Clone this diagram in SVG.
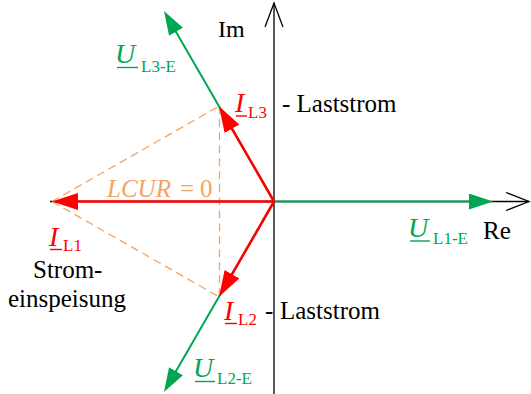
<svg xmlns="http://www.w3.org/2000/svg" width="531" height="394" viewBox="0 0 531 394" font-family="'Liberation Serif', 'DejaVu Serif', serif">
<style>
text{font-family:'Liberation Serif','DejaVu Serif',serif;}
.t{font-size:25px;fill:#000;}
.sym{font-size:28px;font-style:italic;}
.sub{font-size:17px;}
.red{fill:#FF0000;}
.grn{fill:#00A651;}
.org{fill:#F4A462;}
.axis{stroke:#000;stroke-width:1.3;fill:none;}
.ul-r{stroke:#FF0000;stroke-width:1.4;}
.ul-g{stroke:#00A651;stroke-width:1.4;}
.vr{stroke:#FF0000;stroke-width:2.5;fill:none;marker-end:url(#ar);}
.vg{stroke:#00A651;stroke-width:2;fill:none;marker-end:url(#ag);}
.dash{stroke:#F4A462;stroke-width:1.3;stroke-dasharray:8 5;fill:none;}
</style>
<defs>
<marker id="ar" markerUnits="userSpaceOnUse" viewBox="0 0 26 17" markerWidth="26" markerHeight="17" refX="16" refY="8.5" orient="auto"><path d="M0,0 L26,8.5 L0,17 z" fill="#FF0000"/></marker>
<marker id="ag" markerUnits="userSpaceOnUse" viewBox="0 0 24 16" markerWidth="24" markerHeight="16" refX="14" refY="8" orient="auto"><path d="M0,0 L24,8 L0,16 z" fill="#00A651"/></marker>
</defs>
<g id="axes">
<line class="axis" x1="50" y1="201.5" x2="529" y2="201.5"/>
<polyline class="axis" points="506,192.5 529,201.5 506,210.5"/>
<line class="axis" x1="274" y1="394" x2="274" y2="3"/>
<polyline class="axis" points="265,27 274,3 283,27"/>
</g>
<g id="connectors">
<line class="dash" x1="52" y1="201.5" x2="219" y2="106.2"/>
<line class="dash" x1="52" y1="201.5" x2="219" y2="296.8"/>
<line class="dash" x1="219.5" y1="106.2" x2="219.5" y2="296.8"/>
<line class="vg" x1="274" y1="201.5" x2="483" y2="201.5"/>
<line class="vg" x1="274" y1="201.5" x2="169" y2="19.7"/>
<line class="vg" x1="274" y1="201.5" x2="169" y2="383.3"/>
<line class="vr" x1="274" y1="201.5" x2="62" y2="201.5"/>
<line class="vr" x1="274" y1="201.5" x2="224" y2="114.9"/>
<line class="vr" x1="274" y1="201.5" x2="224" y2="288.1"/>
</g>
<g id="label-Im"><text class="t" x="218" y="37" style="font-size:24px">Im</text></g>
<g id="label-Re"><text class="t" x="483" y="239">Re</text></g>
<g id="label-UL3E">
<text class="sym grn" x="115" y="63">U</text>
<line class="ul-g" x1="117" y1="67.5" x2="138" y2="67.5"/>
<text class="sub grn" x="141" y="72">L3-E</text>
</g>
<g id="label-UL1E">
<text class="sym grn" x="408" y="237">U</text>
<line class="ul-g" x1="410" y1="241" x2="430" y2="241"/>
<text class="sub grn" x="433" y="244">L1-E</text>
</g>
<g id="label-UL2E">
<text class="sym grn" x="193" y="377">U</text>
<line class="ul-g" x1="195" y1="381.5" x2="215" y2="381.5"/>
<text class="sub grn" x="217" y="384">L2-E</text>
</g>
<g id="label-IL3">
<text class="sym red" x="235" y="112">I</text>
<line class="ul-r" x1="236" y1="116" x2="247" y2="116"/>
<text class="sub red" x="248" y="118">L3</text>
<text class="t" x="282" y="112">- Laststrom</text>
</g>
<g id="label-IL1">
<text class="sym red" x="49" y="246">I</text>
<line class="ul-r" x1="50" y1="249.5" x2="62" y2="249.5"/>
<text class="sub red" x="63" y="251">L1</text>
<text class="t" x="33" y="278">Strom-</text>
<text class="t" x="8" y="307">einspeisung</text>
</g>
<g id="label-IL2">
<text class="sym red" x="224" y="320">I</text>
<line class="ul-r" x1="225" y1="323.5" x2="237" y2="323.5"/>
<text class="sub red" x="238" y="325">L2</text>
<text class="t" x="265" y="319">-</text>
<text class="t" x="280" y="319">Laststrom</text>
</g>
<g id="label-LCUR">
<text class="org" x="107" y="197" style="font-size:25px;font-style:italic">LCUR</text>
<text class="org" x="180" y="197" style="font-size:25px">=</text>
<text class="org" x="200" y="197" style="font-size:25px">0</text>
</g>
</svg>
